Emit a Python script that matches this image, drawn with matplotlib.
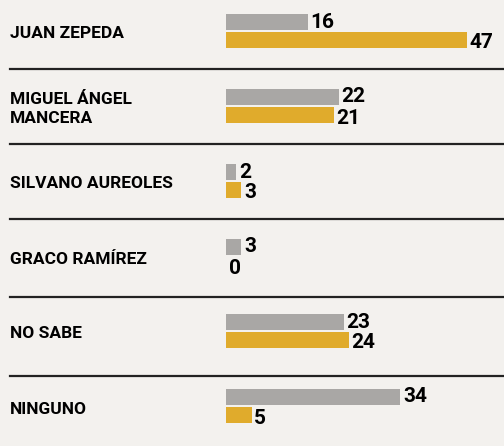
import numpy as np
import matplotlib.pyplot as plt

labels = ["JUAN ZEPEDA", "MIGUEL ÁNGEL\nMANCERA", "SILVANO AUREOLES",
          "GRACO RAMÍREZ", "NO SABE", "NINGUNO"]
gris = [16, 22, 2, 3, 23, 34]
oro = [47, 21, 3, 0, 24, 5]

c_gris = "#a9a7a5"
c_oro = "#e0ab2c"
fondo = "#f3f1ee"
fuente = ["Roboto", "DejaVu Sans"]

fig = plt.figure(figsize=(5.04, 4.46), dpi=100, facecolor=fondo)
ax = fig.add_axes([0, 0, 1, 1])
ax.set_facecolor(fondo)

px = 5.13  # pixels per unit
ax.set_xlim(-226 / px, (504 - 226) / px)
top = -31 / 75
ax.set_ylim(top + 446 / 75, top)

y = np.arange(len(labels))
h = 0.22
ax.barh(y - 0.12, gris, height=h, color=c_gris)
ax.barh(y + 0.12, oro, height=h, color=c_oro)

for i in range(len(labels)):
    ax.text(-216 / px, y[i] + 0.04, labels[i], ha="left", va="center",
            fontsize=12.5, fontweight="bold", family=fuente, linespacing=1.3)
    ax.text(gris[i] + 0.5, y[i] - 0.12, str(gris[i]), ha="left", va="center",
            fontsize=15, fontweight="bold", family=fuente)
    ax.text(oro[i] + 0.5, y[i] + 0.16, str(oro[i]), ha="left", va="center",
            fontsize=15, fontweight="bold", family=fuente)

for s in [0.5, 1.5, 2.5, 3.55, 4.6]:
    ax.axhline(s, xmin=10 / 504, xmax=1, color="#222222", lw=1.6)

ax.axis("off")
fig.savefig("out.png", dpi=100, facecolor=fondo)
